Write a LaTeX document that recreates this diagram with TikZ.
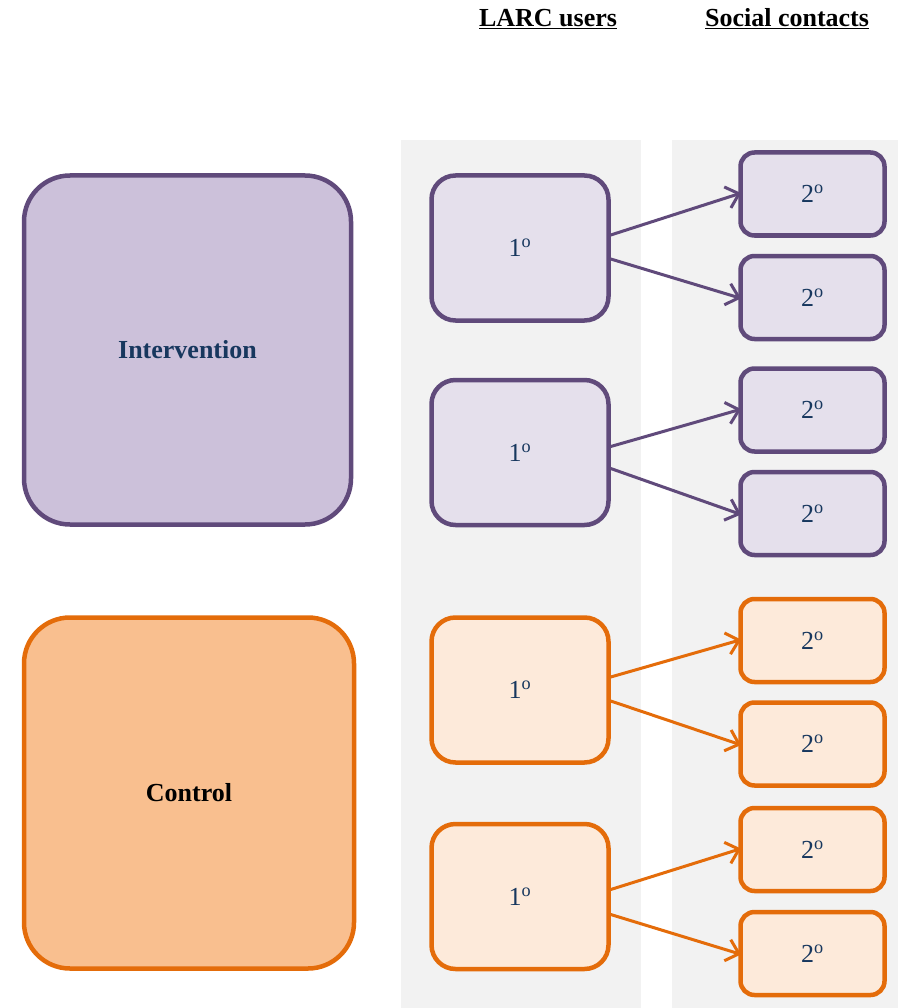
\documentclass[tikz,border=0pt]{standalone}
\usepackage{fontspec}
\setmainfont{Liberation Serif}
\usetikzlibrary{arrows.meta}
\definecolor{pdraw}{HTML}{604A7B}
\definecolor{pbig}{HTML}{CCC1DA}
\definecolor{psmall}{HTML}{E5E0EC}
\definecolor{odraw}{HTML}{E46C0A}
\definecolor{obig}{HTML}{F9BF8F}
\definecolor{osmall}{HTML}{FDEADA}
\definecolor{tblue}{HTML}{17375E}
\definecolor{bggray}{HTML}{F2F2F2}
\tikzset{
  box/.style={draw, line width=4.5pt, inner sep=0pt, font=\fontsize{26}{30}\selectfont},
  bigbox/.style={box, rounded corners=46pt, minimum width=327pt, minimum height=349pt},
  onebox/.style={box, rounded corners=24pt, minimum width=177pt, minimum height=145pt, text=tblue},
  twobox/.style={box, rounded corners=14pt, minimum width=144pt, minimum height=83pt, text=tblue},
  parr/.style={draw=pdraw, line width=3pt, shorten >=-3pt, -{Straight Barb[length=12pt,width=22pt,line width=3pt]}},
  oarr/.style={draw=odraw, line width=3pt, shorten >=-3pt, -{Straight Barb[length=12pt,width=22pt,line width=3pt]}},
  head/.style={font=\fontsize{26}{30}\selectfont\bfseries}
}
\newcommand{\dgr}[1]{#1\textsuperscript{o}}
\begin{document}
\begin{tikzpicture}[x=1pt,y=-1pt]
\useasboundingbox (0,0) rectangle (898,1008);
\fill[bggray] (401,140) rectangle (641,1008);
\fill[bggray] (672,140) rectangle (898,1008);
\node[head] (h1) at (548,19) {\underline{LARC users}};
\node[head] (h2) at (787,19) {\underline{Social contacts}};
% big boxes
\node[bigbox, draw=pdraw, fill=pbig, text=tblue, font=\fontsize{26}{30}\selectfont\bfseries] (I) at (187.5,350) {Intervention};
\node[bigbox, draw=odraw, fill=obig, minimum width=330pt, minimum height=351pt, font=\fontsize{26}{30}\selectfont\bfseries] (C) at (189,793) {Control};
% first-degree
\node[onebox, draw=pdraw, fill=psmall] (a1) at (520,248) {\dgr{1}};
\node[onebox, draw=pdraw, fill=psmall] (a2) at (520,452.5) {\dgr{1}};
\node[onebox, draw=odraw, fill=osmall] (a3) at (520,690) {\dgr{1}};
\node[onebox, draw=odraw, fill=osmall] (a4) at (520,896.5) {\dgr{1}};
% second-degree
\node[twobox, draw=pdraw, fill=psmall] (b1) at (812.5,194) {\dgr{2}};
\node[twobox, draw=pdraw, fill=psmall] (b2) at (812.5,297.5) {\dgr{2}};
\node[twobox, draw=pdraw, fill=psmall] (b3) at (812.5,410) {\dgr{2}};
\node[twobox, draw=pdraw, fill=psmall] (b4) at (812.5,513.5) {\dgr{2}};
\node[twobox, draw=odraw, fill=osmall] (b5) at (812.5,640.5) {\dgr{2}};
\node[twobox, draw=odraw, fill=osmall] (b6) at (812.5,744) {\dgr{2}};
\node[twobox, draw=odraw, fill=osmall] (b7) at (812.5,849.5) {\dgr{2}};
\node[twobox, draw=odraw, fill=osmall] (b8) at (812.5,953.5) {\dgr{2}};
% arrows
\draw[parr] ([yshift=13pt]a1.east) -- (b1.west);
\draw[parr] ([yshift=-11pt]a1.east) -- (b2.west);
\draw[parr] ([yshift=6pt]a2.east) -- (b3.west);
\draw[parr] ([yshift=-16pt]a2.east) -- (b4.west);
\draw[oarr] ([yshift=13pt]a3.east) -- (b5.west);
\draw[oarr] ([yshift=-11pt]a3.east) -- (b6.west);
\draw[oarr] ([yshift=7pt]a4.east) -- (b7.west);
\draw[oarr] ([yshift=-18pt]a4.east) -- (b8.west);
\end{tikzpicture}
\end{document}
